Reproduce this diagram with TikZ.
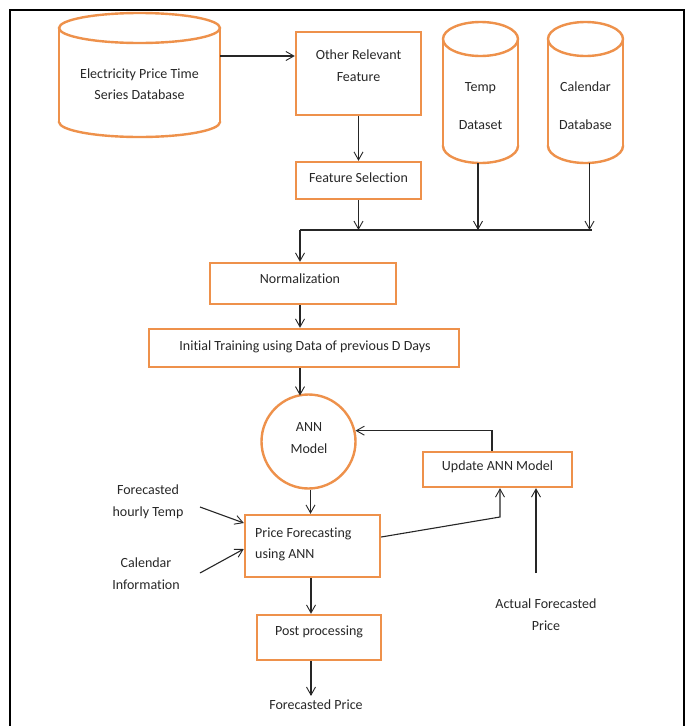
\documentclass[tikz,border=0pt]{standalone}
\usepackage{fontspec}
\setmainfont{Carlito}[Ligatures=NoCommon]
\usetikzlibrary{arrows.meta,calc}
\definecolor{orng}{RGB}{238,145,75}
\definecolor{txtc}{RGB}{40,40,40}
\begin{document}
\begin{tikzpicture}[x=1pt,y=-1pt,
  box/.style={draw=orng,line width=2.4pt,fill=white,rectangle,inner sep=0pt},
  hid/.style={rectangle,inner sep=0pt},
  txt/.style={text=txtc,align=center,inner sep=0pt,font=\fontsize{14}{21.5}\selectfont},
  cyl/.style={draw=orng,line width=2.4pt},
  arr/.style={draw=black!85,line width=1.1pt,-{Straight Barb[length=8pt,width=9pt,line width=0.9pt]}},
  ln/.style={draw=black!85,line width=1.1pt}]
\useasboundingbox (0,0) rectangle (688,726);
\fill[white] (0,0) rectangle (688,726);
\draw[black,line width=1.6pt] (10,740) -- (10,10) -- (684,10) -- (684,740);

% cylinders: cx, rx, yt, yb, ry
\newcommand{\mycyl}[5]{%
  \fill[white] (#1-#2,#3) rectangle (#1+#2,#4);
  \draw[cyl,fill=white] (#1,#4) ellipse [x radius=#2, y radius=#5];
  \fill[white] (#1-#2,#3) rectangle (#1+#2,#4);
  \draw[cyl] (#1-#2,#3) -- (#1-#2,#4) (#1+#2,#3) -- (#1+#2,#4);
  \draw[cyl,fill=white] (#1,#3) ellipse [x radius=#2, y radius=#5];}
\mycyl{139.5}{80.5}{28}{122}{15}
\mycyl{480.5}{37.5}{39}{146}{17}
\mycyl{585.5}{37.5}{39}{146}{17}

\node[hid,minimum width=161pt,minimum height=10pt] (elec) at (139.5,70) {};
\node[txt] (electxt) at (139.5,84) {Electricity Price Time\\Series Database};
\node[hid,minimum width=75pt,minimum height=141pt] (temp) at (478,92.5) {};
\node[txt] (temptxt) at (480.5,106) {Temp\\[16.5pt]Dataset};
\node[hid,minimum width=75pt,minimum height=141pt] (cal) at (589.5,92.5) {};
\node[txt] (caltxt) at (585.5,106) {Calendar\\[16.5pt]Database};

\node[box,minimum width=125pt,minimum height=83pt] (other) at (358.5,73.5) {};
\node[txt] (othertxt) at (358.5,65.5) {Other Relevant\\Feature};
\node[box,minimum width=125pt,minimum height=37pt] (fs) at (358.5,180.5) {};
\node[txt] at (358.5,178) {Feature Selection};

\coordinate (jn) at (300,230);
\coordinate (jr) at (592,230);

\node[box,minimum width=186pt,minimum height=41pt] (norm) at (303,283.5) {};
\node[txt] at (300,279) {Normalization};
\node[box,minimum width=310pt,minimum height=38pt] (init) at (304,348) {};
\node[txt] at (305,347) {Initial Training using Data of previous D Days};
\node[draw=orng,line width=2.4pt,circle,minimum size=94pt,inner sep=0pt,fill=white] (ann) at (308.5,441.5) {};
\node[txt] at (309,438) {ANN\\Model};
\node[box,minimum width=149pt,minimum height=35pt] (upd) at (497.5,469.5) {};
\node[txt] at (497.5,467) {Update ANN Model};
\node[box,minimum width=135pt,minimum height=62pt] (pf) at (312.5,546) {};
\node[txt,align=left,anchor=west] at (255,544.5) {Price Forecasting\\using ANN};
\node[box,minimum width=124pt,minimum height=45pt] (post) at (319,637.5) {};
\node[txt] at (319,632) {Post processing};
\node[txt,inner sep=4pt] (fp) at (316,705) {Forecasted Price};
\node[txt] (fht) at (148,502) {Forecasted\\hourly Temp};
\node[txt] (cinfo) at (146,573.5) {Calendar\\Information};
\node[txt] (act) at (546,614.5) {Actual Forecasted\\Price};

\coordinate (fhts) at (200,507);
\coordinate (cins) at (200,573);
\coordinate (acts) at (536,573);
\coordinate (bend) at (500,517);

\draw[arr] ([yshift=14pt]elec.east) -- ([yshift=14pt]elec.east -| other.west);
\draw[arr] (other.south) -- (fs.north);
\draw[arr] (fs.south) -- (fs.south |- jn);
\draw[arr] (temp.south) -- (temp.south |- jn);
\draw[arr] (cal.south) -- (cal.south |- jn);
\draw[ln] (jn) -- (jr);
\draw[arr] (jn) -- (jn |- norm.north);
\draw[arr] (jn |- norm.south) -- (jn |- init.north);
\draw[arr] (jn |- init.south) -- (300,395.5);
\draw[arr] ([xshift=2pt]ann.south) -- ([xshift=2pt]ann.south |- pf.north);
\draw[arr] ([xshift=-5.5pt]upd.north) |- (ann.13);
\draw[arr] ([yshift=9pt]pf.east) -- (bend) -- (bend |- upd.south);
\draw[arr] (acts) -- (acts |- upd.south);
\draw[arr] (fhts) -- ([yshift=23pt]pf.west);
\draw[arr] (cins) -- ([yshift=-3pt]pf.west);
\draw[arr] ([xshift=-1.5pt]pf.south) -- ([xshift=-1.5pt]pf.south |- post.north);
\draw[arr] ([xshift=-1.5pt]pf.south |- post.south) -- ([xshift=-1.5pt]pf.south |- fp.north);
\end{tikzpicture}
\end{document}
